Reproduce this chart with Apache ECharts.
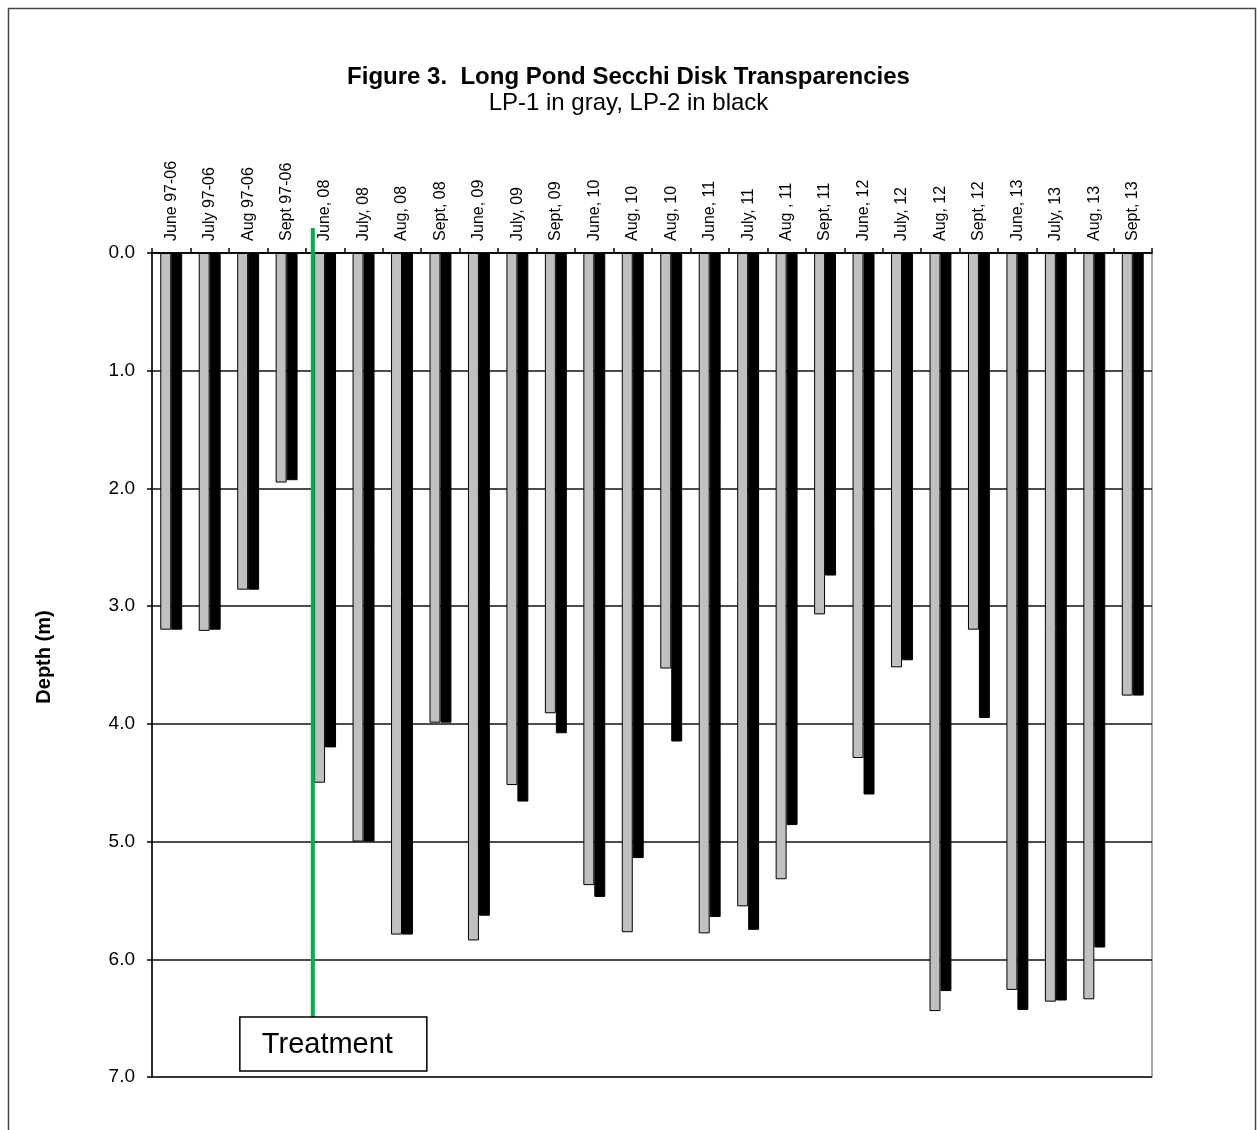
<!DOCTYPE html>
<html>
<head>
<meta charset="utf-8">
<script src="https://cdn.jsdelivr.net/npm/echarts@6/dist/echarts.min.js"></script>
<style>html,body{margin:0;padding:0;background:#fff}#c{width:1257px;height:1130px}</style>
</head>
<body>
<div id="c"></div>
<script>
var categories = ["June 97-06","July 97-06","Aug 97-06","Sept 97-06","June, 08","July, 08","Aug, 08","Sept, 08","June, 09","July, 09","Sept, 09","June, 10","Aug, 10","Aug, 10","June, 11","July, 11","Aug , 11","Sept, 11","June, 12","July, 12","Aug, 12","Sept, 12","June, 13","July, 13","Aug, 13","Sept, 13"];
var lp1 = [3.20,3.21,2.86,1.95,4.50,5.00,5.79,3.99,5.84,4.52,3.91,5.37,5.77,3.53,5.78,5.55,5.32,3.07,4.29,3.52,6.44,3.20,6.26,6.36,6.34,3.76];
var lp2 = [3.20,3.20,2.86,1.93,4.20,5.00,5.79,3.99,5.63,4.66,4.08,5.47,5.14,4.15,5.64,5.75,4.86,2.74,4.60,3.46,6.27,3.95,6.43,6.35,5.90,3.76];
var yTicks = [0,1,2,3,4,5,6,7];
var titleText = "Figure 3.  Long Pond Secchi Disk Transparencies";
var subtitleText = "LP-1 in gray, LP-2 in black";
var annotationText = "Treatment";

var sans = '"Liberation Sans",Arial,sans-serif';
var chart = echarts.init(document.getElementById('c'));
var option = {
  animation: false,
  backgroundColor: '#fff',
  title: {
    text: titleText,
    subtext: subtitleText,
    left: 'center',
    top: 60,
    itemGap: 2,
    textStyle: {fontFamily: sans, fontWeight: 'bold', fontSize: 24, color: '#000'},
    subtextStyle: {fontFamily: sans, fontWeight: 'normal', fontSize: 24, color: '#000'}
  },
  grid: {left: 152, right: 105, top: 253, bottom: 53, show: true, borderColor: '#888', borderWidth: 1.5, backgroundColor: 'transparent'},
  xAxis: {
    type: 'category',
    position: 'top',
    data: categories,
    axisLine: {show: true, lineStyle: {color: '#000', width: 1.5}},
    axisTick: {show: true, alignWithLabel: false, length: 5, inside: false, lineStyle: {color: '#000', width: 1.5}},
    axisLabel: {rotate: 90, interval: 0, margin: 12, fontFamily: sans, fontSize: 16, color: '#000'},
    splitLine: {show: false}
  },
  yAxis: {
    type: 'value',
    inverse: true,
    min: 0, max: 7, interval: 1,
    name: 'Depth (m)',
    nameLocation: 'middle',
    nameGap: 98,
    nameRotate: 90,
    nameTextStyle: {fontFamily: sans, fontWeight: 'bold', fontSize: 20, color: '#000', padding: [0, 0, 0, 16]},
    axisLine: {show: true, lineStyle: {color: '#000', width: 1.5}},
    axisTick: {show: true, length: 5, lineStyle: {color: '#000', width: 1.5}},
    axisLabel: {margin: 17, fontFamily: sans, fontSize: 19, color: '#000',
      formatter: function (v) { return v.toFixed(1); }},
    splitLine: {show: true, lineStyle: {color: '#111', width: 1.6}}
  },
  series: [
    {name: 'LP-1', type: 'bar', data: lp1, barGap: '0%', barCategoryGap: '43%',
      itemStyle: {color: '#c0c0c0', borderColor: '#000', borderWidth: 1}},
    {name: 'LP-2', type: 'bar', data: lp2, barGap: '0%', barCategoryGap: '43%',
      itemStyle: {color: '#000', borderColor: '#000', borderWidth: 1}}
  ]
};
chart.setOption(option);

// Annotation: treatment line between Sept 97-06 and June 08
var p3 = chart.convertToPixel({xAxisIndex: 0}, 3);
var p4 = chart.convertToPixel({xAxisIndex: 0}, 4);
var lx = (p3 + p4) / 2 + 7;
var yTop = chart.convertToPixel({yAxisIndex: 0}, 0) - 25;
var boxTop = chart.convertToPixel({yAxisIndex: 0}, 6.49);
var boxBottom = chart.convertToPixel({yAxisIndex: 0}, 6.95);
chart.setOption({
  graphic: [
    {type: 'rect', shape: {x: 8.5, y: 8.5, width: 1247, height: 1140}, style: {fill: 'none', stroke: '#444', lineWidth: 1.5}, silent: true},
    {type: 'line', shape: {x1: lx, y1: yTop, x2: lx, y2: boxTop}, style: {stroke: '#00b050', lineWidth: 4}, z: 100},
    {type: 'rect', shape: {x: lx - 73, y: boxTop, width: 187, height: boxBottom - boxTop}, style: {fill: '#fff', stroke: '#000', lineWidth: 1.5}, z: 100},
    {type: 'text', x: lx - 51, y: (boxTop + boxBottom) / 2 + 1, style: {text: annotationText, fontFamily: sans, fontSize: 29, fill: '#000', verticalAlign: 'middle'}, z: 101}
  ]
});
</script>
</body>
</html>
